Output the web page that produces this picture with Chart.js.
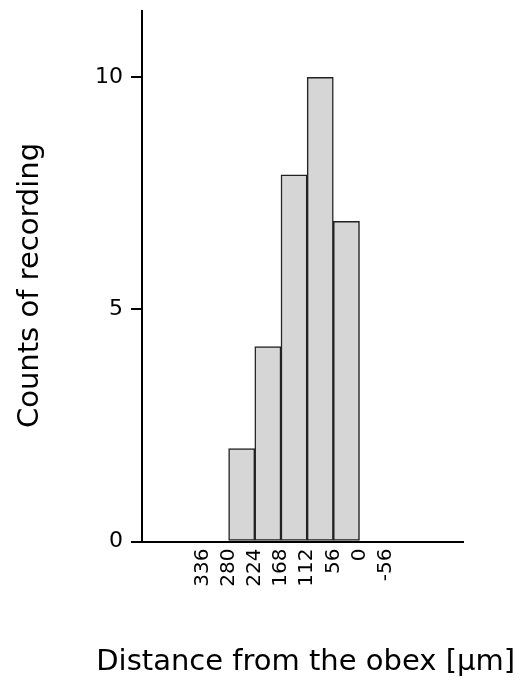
<!DOCTYPE html>
<html>
<head>
<meta charset="utf-8">
<script src="https://cdn.jsdelivr.net/npm/chart.js@4"></script>
<style>
    html, body { margin: 0; padding: 0; background: #fff; }
    #wrap { width: 520px; height: 686px; }
</style>
</head>
<body>
<div id="wrap"><canvas id="histChart"></canvas></div>
<script>
// bin centres (µm from the obex) and counts per bin
const binCenters = [252, 196, 140, 84, 28];
const counts = [2, 4.2, 7.9, 10, 6.9];
const xTickValues = [336, 280, 224, 168, 112, 56, 0, -56];
const yTickValues = [0, 5, 10];

const fontFamily = "'DejaVu Sans', sans-serif";

new Chart(document.getElementById('histChart'), {
    type: 'bar',
    data: {
        datasets: [{
            data: binCenters.map((x, i) => ({ x: x, y: counts[i] })),
            backgroundColor: '#d6d6d6',
            borderColor: '#222',
            borderWidth: 1.5,
            borderSkipped: false,
            barPercentage: 1,
            categoryPercentage: 1
        }]
    },
    options: {
        responsive: true,
        maintainAspectRatio: false,
        animation: false,
        layout: {
            padding: { top: 11, right: 5, left: 0, bottom: 0 }
        },
        plugins: {
            legend: { display: false },
            tooltip: { enabled: false },
            // x title drawn by the title plugin so it is not squeezed to the plot width
            title: {
                display: true,
                position: 'bottom',
                align: 'end',
                text: 'Distance from the obex [µm]',
                color: '#000',
                font: { family: fontFamily, size: 29, weight: 'normal' },
                padding: { top: 0, bottom: 6.6 }
            }
        },
        scales: {
            x: {
                type: 'linear',
                reverse: true,
                offset: false,
                min: -221.4,
                max: 465.3,
                afterBuildTicks: axis => {
                    axis.ticks = xTickValues.map(v => ({ value: v }));
                },
                afterFit: axis => {
                    axis.height = 103.1;
                    axis.paddingLeft = 0;
                    axis.paddingRight = 0;
                },
                grid: { display: false, drawTicks: false, tickLength: 0 },
                border: { display: true, color: '#000', width: 2 },
                ticks: {
                    autoSkip: false,
                    minRotation: 90,
                    maxRotation: 90,
                    padding: 7,
                    color: '#000',
                    font: { family: fontFamily, size: 20 }
                }
            },
            y: {
                min: 0,
                max: 11.43,
                afterBuildTicks: axis => {
                    axis.ticks = yTickValues.map(v => ({ value: v }));
                },
                afterFit: axis => {
                    axis.width = 142;
                    axis.paddingTop = 0;
                    axis.paddingBottom = 0;
                },
                grid: {
                    drawOnChartArea: false,
                    color: '#000',
                    lineWidth: 2,
                    tickLength: 11
                },
                border: { display: true, color: '#000', width: 2 },
                ticks: {
                    padding: 8,
                    color: '#000',
                    font: { family: fontFamily, size: 22 }
                },
                title: {
                    display: true,
                    // trailing spaces nudge the centred title a little lower, as in the original
                    text: 'Counts of recording  ',
                    color: '#000',
                    font: { family: fontFamily, size: 29 },
                    padding: { top: 13, bottom: 0 }
                }
            },
            // empty right-hand strip so the plot ends where the reference does
            yRight: {
                position: 'right',
                display: true,
                grid: { display: false, drawTicks: false },
                border: { display: false },
                ticks: { display: false },
                afterFit: axis => {
                    axis.width = 52;
                    axis.paddingTop = 0;
                    axis.paddingBottom = 0;
                }
            }
        }
    }
});
</script>
</body>
</html>
